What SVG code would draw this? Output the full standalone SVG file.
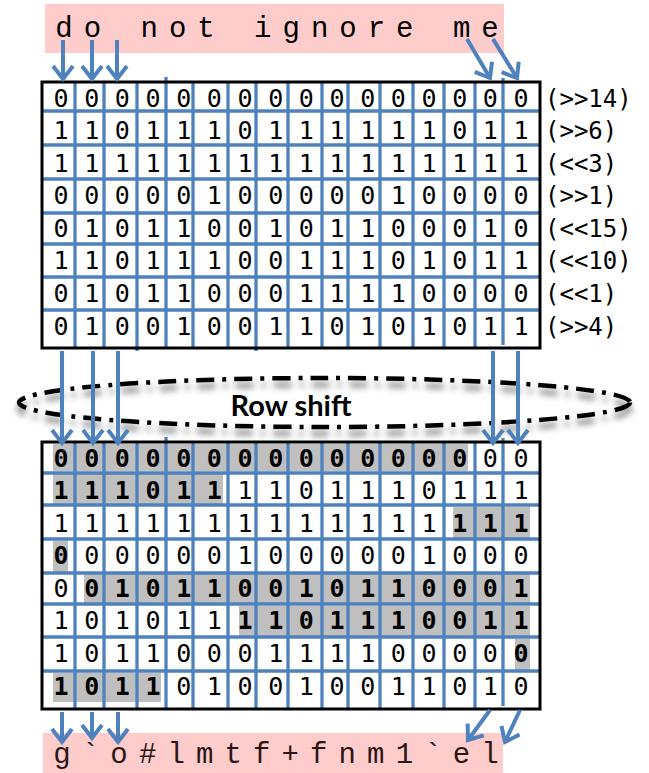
<svg xmlns="http://www.w3.org/2000/svg" width="649" height="773" viewBox="0 0 649 773">
<defs>
<style>
.pink{fill:#FFCCCC}
.gl{stroke:#4F81BD;stroke-width:3.3;fill:none}
.box{fill:none;stroke:#000;stroke-width:3}
.d{font-family:"DejaVu Sans Mono",monospace;font-size:25px;fill:#000;text-anchor:middle}
.b{font-weight:bold}
.lbl{font-family:"DejaVu Sans Mono",monospace;font-size:24px;fill:#000}
.txt{font-family:"Liberation Mono","Courier New",monospace;font-size:29px;text-anchor:middle}
.arr{stroke:#4F81BD;stroke-width:4;fill:none;marker-end:url(#ah)}
.hl{fill:#BFBFBF}
</style>
<marker id="ah" markerUnits="userSpaceOnUse" viewBox="-16 -12 20 24" refX="0" refY="0" markerWidth="20" markerHeight="24" orient="auto" overflow="visible">
<path d="M-13,-10 L0,0 L-13,10" fill="none" stroke="#4F81BD" stroke-width="4" stroke-linejoin="miter"/>
</marker>
<filter id="sh" x="-10%" y="-50%" width="120%" height="200%">
<feGaussianBlur stdDeviation="3"/>
</filter>
</defs>

<g id="input">
<rect class="pink" x="45" y="4" width="459" height="49"/>
<text class="txt" fill="#000" y="37" x="64 92.4 120.8 149.2 177.6 206 234.4 262.8 291.2 319.6 348 376.4 404.8 433.2 461.6 490">do not ignore me</text>
</g>

<g id="grid-top">
<rect x="42" y="82" width="498" height="266" fill="#fff"/>
<path class="gl" d="M42,111H541M42,145H541M42,179H541M42,213H541M42,244H541M42,277H541M42,310H541"/>
<path class="gl" d="M75,82V348M104,82V348M137,82V351M166,77V348M193,82V348M228,82V348M256,82V351M288,82V348M322,82V348M348,82V348M380,82V348M413,82V348M444,82V348M475,82V348M503,78V345"/>
<rect class="box" x="42" y="82" width="498" height="266"/>
<text class="d" y="107" x="61 91.7 122.3 153 183.7 214.3 245 275.7 306.3 337 367.7 398.3 429 459.7 490.3 521">0000000000000000</text>
<text class="d" y="139" x="61 91.7 122.3 153 183.7 214.3 245 275.7 306.3 337 367.7 398.3 429 459.7 490.3 521">1101110111111011</text>
<text class="d" y="172" x="61 91.7 122.3 153 183.7 214.3 245 275.7 306.3 337 367.7 398.3 429 459.7 490.3 521">1111111111111111</text>
<text class="d" y="204" x="61 91.7 122.3 153 183.7 214.3 245 275.7 306.3 337 367.7 398.3 429 459.7 490.3 521">0000010000010000</text>
<text class="d" y="237" x="61 91.7 122.3 153 183.7 214.3 245 275.7 306.3 337 367.7 398.3 429 459.7 490.3 521">0101100101100010</text>
<text class="d" y="269" x="61 91.7 122.3 153 183.7 214.3 245 275.7 306.3 337 367.7 398.3 429 459.7 490.3 521">1101110011101011</text>
<text class="d" y="302" x="61 91.7 122.3 153 183.7 214.3 245 275.7 306.3 337 367.7 398.3 429 459.7 490.3 521">0101100011110000</text>
<text class="d" y="335" x="61 91.7 122.3 153 183.7 214.3 245 275.7 306.3 337 367.7 398.3 429 459.7 490.3 521">0100100110101011</text>
</g>

<g id="shift-labels">
<text class="lbl" x="545" y="107">(&gt;&gt;14)</text>
<text class="lbl" x="545" y="139">(&gt;&gt;6)</text>
<text class="lbl" x="545" y="172">(&lt;&lt;3)</text>
<text class="lbl" x="545" y="204">(&gt;&gt;1)</text>
<text class="lbl" x="545" y="237">(&lt;&lt;15)</text>
<text class="lbl" x="545" y="269">(&lt;&lt;10)</text>
<text class="lbl" x="545" y="302">(&lt;&lt;1)</text>
<text class="lbl" x="545" y="335">(&gt;&gt;4)</text>
</g>

<g id="row-shift">
<ellipse cx="324.5" cy="409" rx="305" ry="24.5" fill="none" stroke="#000" stroke-opacity="0.4" stroke-width="6" stroke-dasharray="18 8 4 8" filter="url(#sh)"/>
<ellipse cx="324.5" cy="402.5" rx="305.5" ry="24.5" fill="none" stroke="#000" stroke-width="4.5" stroke-dasharray="18 8 4 8"/>
<text x="291" y="416" font-family="Lato,'Open Sans',sans-serif" font-weight="bold" font-size="29" text-anchor="middle" fill="#000">Row shift</text>
</g>

<g id="grid-bottom">
<rect x="42" y="442" width="498" height="267" fill="#fff"/>
<rect class="hl" x="53" y="444" width="415" height="27"/>
<rect class="hl" x="53" y="474" width="170" height="30"/>
<rect class="hl" x="453" y="507" width="77" height="31"/>
<rect class="hl" x="53" y="541" width="15" height="31"/>
<rect class="hl" x="84" y="574" width="446" height="29"/>
<rect class="hl" x="239" y="606" width="291" height="30"/>
<rect class="hl" x="515" y="639" width="15" height="31"/>
<rect class="hl" x="53" y="673" width="108" height="29"/>
<path class="gl" d="M42,473H541M42,505H541M42,539H541M42,573H541M42,604H541M42,637H541M42,671H541"/>
<path class="gl" d="M75,442V709M104,442V709M137,442V709M166,437V709M193,442V709M228,442V709M256,442V709M288,442V709M322,442V709M348,442V709M380,442V709M413,442V709M444,442V709M475,442V709M503,438V706"/>
<rect class="box" x="42" y="442" width="498" height="267"/>
<text class="d" y="467" x="61 91.7 122.3 153 183.7 214.3 245 275.7 306.3 337 367.7 398.3 429 459.7 490.3 521"><tspan class="b">00000000000000</tspan>00</text>
<text class="d" y="499" x="61 91.7 122.3 153 183.7 214.3 245 275.7 306.3 337 367.7 398.3 429 459.7 490.3 521"><tspan class="b">111011</tspan>1101110111</text>
<text class="d" y="532" x="61 91.7 122.3 153 183.7 214.3 245 275.7 306.3 337 367.7 398.3 429 459.7 490.3 521">1111111111111<tspan class="b">111</tspan></text>
<text class="d" y="564" x="61 91.7 122.3 153 183.7 214.3 245 275.7 306.3 337 367.7 398.3 429 459.7 490.3 521"><tspan class="b">0</tspan>000001000001000</text>
<text class="d" y="597" x="61 91.7 122.3 153 183.7 214.3 245 275.7 306.3 337 367.7 398.3 429 459.7 490.3 521">0<tspan class="b">010110010110001</tspan></text>
<text class="d" y="629" x="61 91.7 122.3 153 183.7 214.3 245 275.7 306.3 337 367.7 398.3 429 459.7 490.3 521">101011<tspan class="b">1101110011</tspan></text>
<text class="d" y="662" x="61 91.7 122.3 153 183.7 214.3 245 275.7 306.3 337 367.7 398.3 429 459.7 490.3 521">101100011110000<tspan class="b">0</tspan></text>
<text class="d" y="695" x="61 91.7 122.3 153 183.7 214.3 245 275.7 306.3 337 367.7 398.3 429 459.7 490.3 521"><tspan class="b">1011</tspan>010010011010</text>
</g>

<g id="output">
<rect class="pink" x="43" y="733" width="460" height="40"/>
<text class="txt" fill="#2b1616" y="763" x="62 90.5 119 147.6 176.1 204.6 233.2 261.7 290.2 318.8 347.3 375.8 404.4 432.9 461.4 490">g`o#lmtf+fnm1`el</text>
</g>

<g id="connectors">
<line class="arr" x1="63" y1="40" x2="63" y2="79"/>
<line class="arr" x1="92" y1="40" x2="92" y2="79"/>
<line class="arr" x1="117" y1="40" x2="117" y2="79"/>
<line class="arr" x1="467" y1="39" x2="490" y2="78"/>
<line class="arr" x1="493" y1="39" x2="517" y2="78"/>
<line class="arr" x1="62" y1="351" x2="62" y2="443"/>
<line class="arr" x1="93" y1="351" x2="93" y2="443"/>
<line class="arr" x1="118" y1="351" x2="118" y2="443"/>
<line class="arr" x1="493" y1="351" x2="493" y2="443"/>
<line class="arr" x1="518" y1="351" x2="518" y2="443"/>
<line class="arr" x1="62" y1="712" x2="62" y2="742"/>
<line class="arr" x1="92" y1="712" x2="92" y2="738"/>
<line class="arr" x1="118" y1="712" x2="118" y2="742"/>
<line class="arr" x1="490" y1="710" x2="468" y2="740"/>
<line class="arr" x1="520" y1="710" x2="505" y2="742"/>
</g>
</svg>
